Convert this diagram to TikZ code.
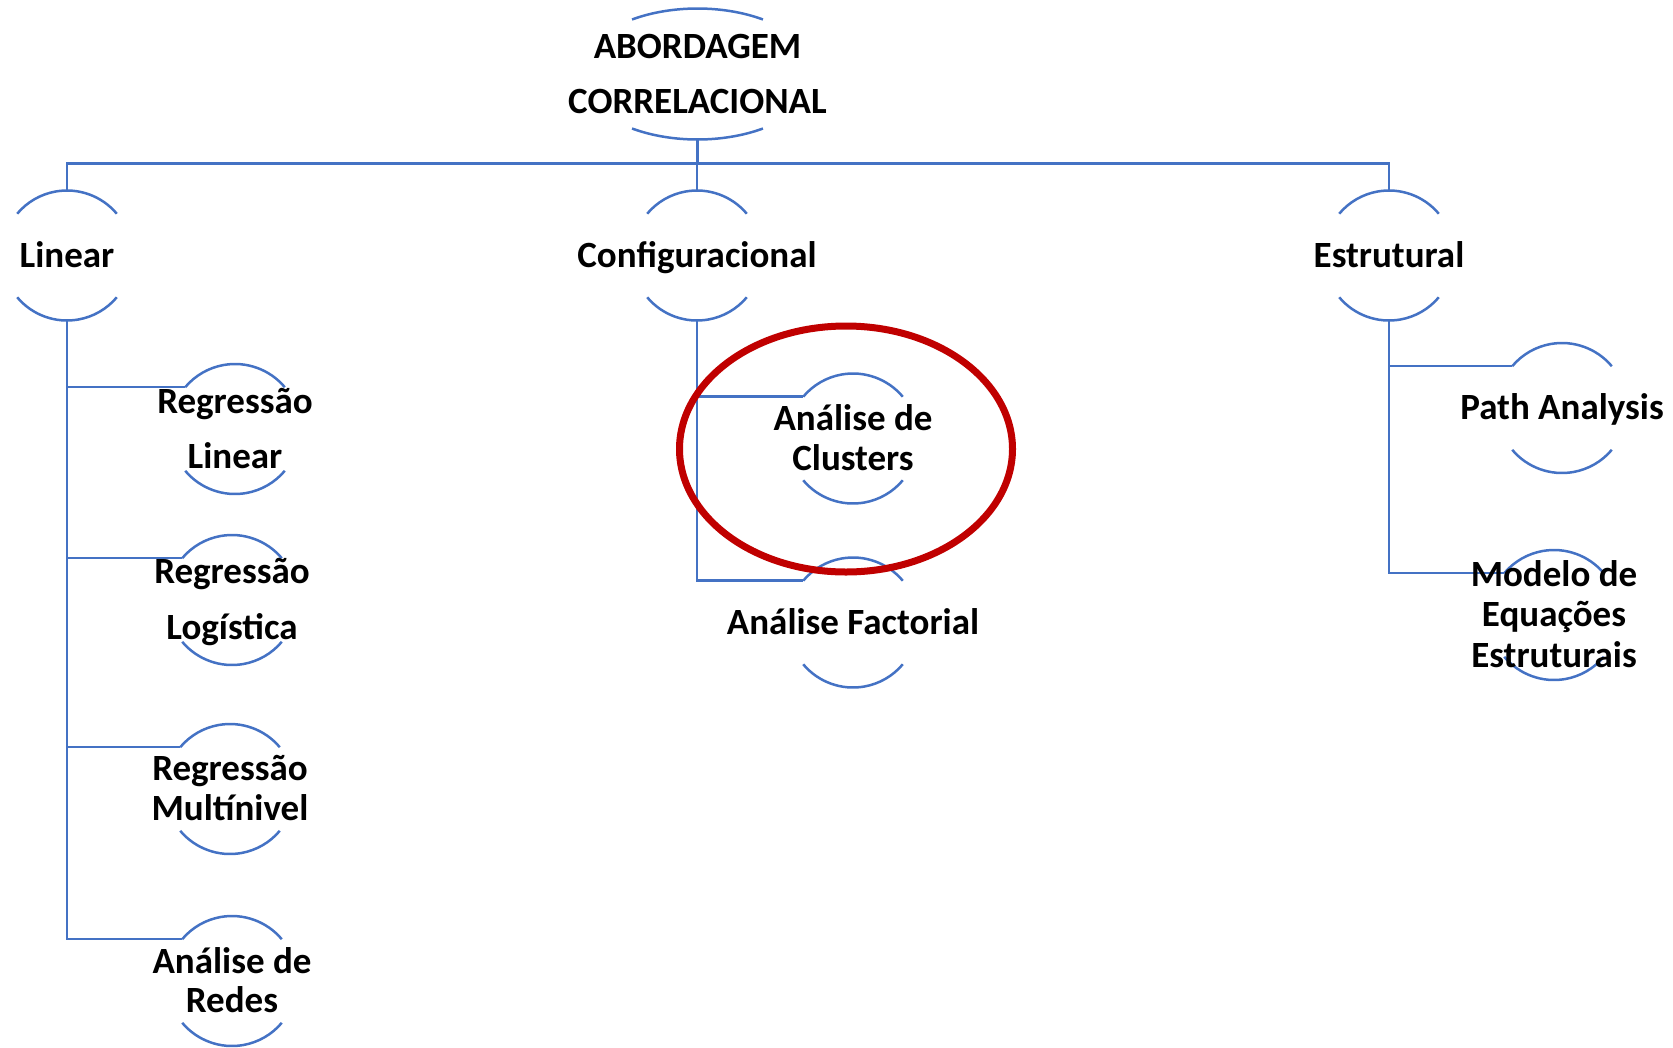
\documentclass[tikz,border=0pt]{standalone}
\usepackage{fontspec}
\setmainfont{Carlito}
\usetikzlibrary{calc,backgrounds}
\definecolor{blu}{HTML}{4472C4}
\definecolor{rd}{HTML}{C00000}
\newcommand\stk[2]{\vbox{\baselineskip=#1\lineskiplimit=-1000pt\lineskip=0pt\halign{\hfil##\hfil\cr#2\cr}}}
\newcommand\ringarcs[1]{%
  \draw[conn] ($(#1.center)+(40:65)$) arc[start angle=40,end angle=140,radius=65];
  \draw[conn] ($(#1.center)+(220:65)$) arc[start angle=220,end angle=320,radius=65];}
\tikzset{
  conn/.style={draw=blu,line width=2.5pt},
  lbl/.style={inner sep=0pt,outer sep=0pt,text depth=0pt,anchor=center,
    font=\fontsize{37}{44}\selectfont\bfseries},
  redring/.style={draw=rd,line width=7pt}
}
\begin{document}
\begin{tikzpicture}[x=1pt,y=1pt]
\useasboundingbox (0,0) rectangle (1673,-1047);
% nodes (text)
\node[lbl,text height=78.3pt] (top) at (697.5,-74) {\stk{55pt}{ABORDAGEM\cr CORRELACIONAL}};
\node[lbl,text height=23.3pt] (lin) at (67,-255.5) {Linear};
\node[lbl,text height=23.3pt] (cfg) at (697,-255.5) {Configuracional};
\node[lbl,text height=23.3pt] (est) at (1389,-255.5) {Estrutural};
\node[lbl,text height=78.3pt] (rl) at (235,-429) {\stk{55pt}{Regressão\cr Linear}};
\node[lbl,text height=79.3pt] (rlog) at (232,-600) {\stk{56pt}{Regressão\cr Logística}};
\node[lbl,text height=63.3pt] (rm) at (230,-789) {\stk{40pt}{Regressão\cr Multínivel}};
\node[lbl,text height=62.3pt] (rd) at (232,-981) {\stk{39pt}{Análise de\cr Redes}};
\node[lbl,text height=63.3pt] (clu) at (853,-438.5) {\stk{40pt}{Análise de\cr Clusters}};
\node[lbl,text height=23.3pt] (fac) at (853,-622.5) {Análise Factorial};
\node[lbl,text height=23.3pt] (pa) at (1562,-408) {Path Analysis};
\node[lbl,text height=104.3pt] (sem) at (1554,-615) {\stk{40.5pt}{Modelo de\cr Equações\cr Estruturais}};
\begin{pgfonlayer}{background}
  % top ellipse arcs
  \draw[conn] ($(top.center)+(56.3:118 and 65.5)$) arc[start angle=56.3,end angle=123.7,x radius=118,y radius=65.5];
  \draw[conn] ($(top.center)+(236.3:118 and 65.5)$) arc[start angle=236.3,end angle=303.7,x radius=118,y radius=65.5];
  \foreach \n in {lin,cfg,est,rl,rlog,rm,rd,clu,fac,pa,sem}{\ringarcs{\n}}
  % level 1 connectors
  \foreach \n in {lin,cfg,est}
    \draw[conn] ($(top.center)+(0,-65.5)$) -- ++(0,-24) -| ($(\n.center)+(0,65.5)$);
  % level 2 connectors
  \foreach \n in {rl,rlog,rm,rd}
    \draw[conn] ($(lin.center)+(0,-65.5)$) |- ($(\n.center)+(140:65)$);
  \foreach \n in {clu,fac}
    \draw[conn] ($(cfg.center)+(0,-65.5)$) |- ($(\n.center)+(140:65)$);
  \foreach \n in {pa,sem}
    \draw[conn] ($(est.center)+(0,-65.5)$) |- ($(\n.center)+(140:65)$);
\end{pgfonlayer}
% highlight
\draw[redring] (846,-449) ellipse [x radius=166.5,y radius=123];
\end{tikzpicture}
\end{document}
